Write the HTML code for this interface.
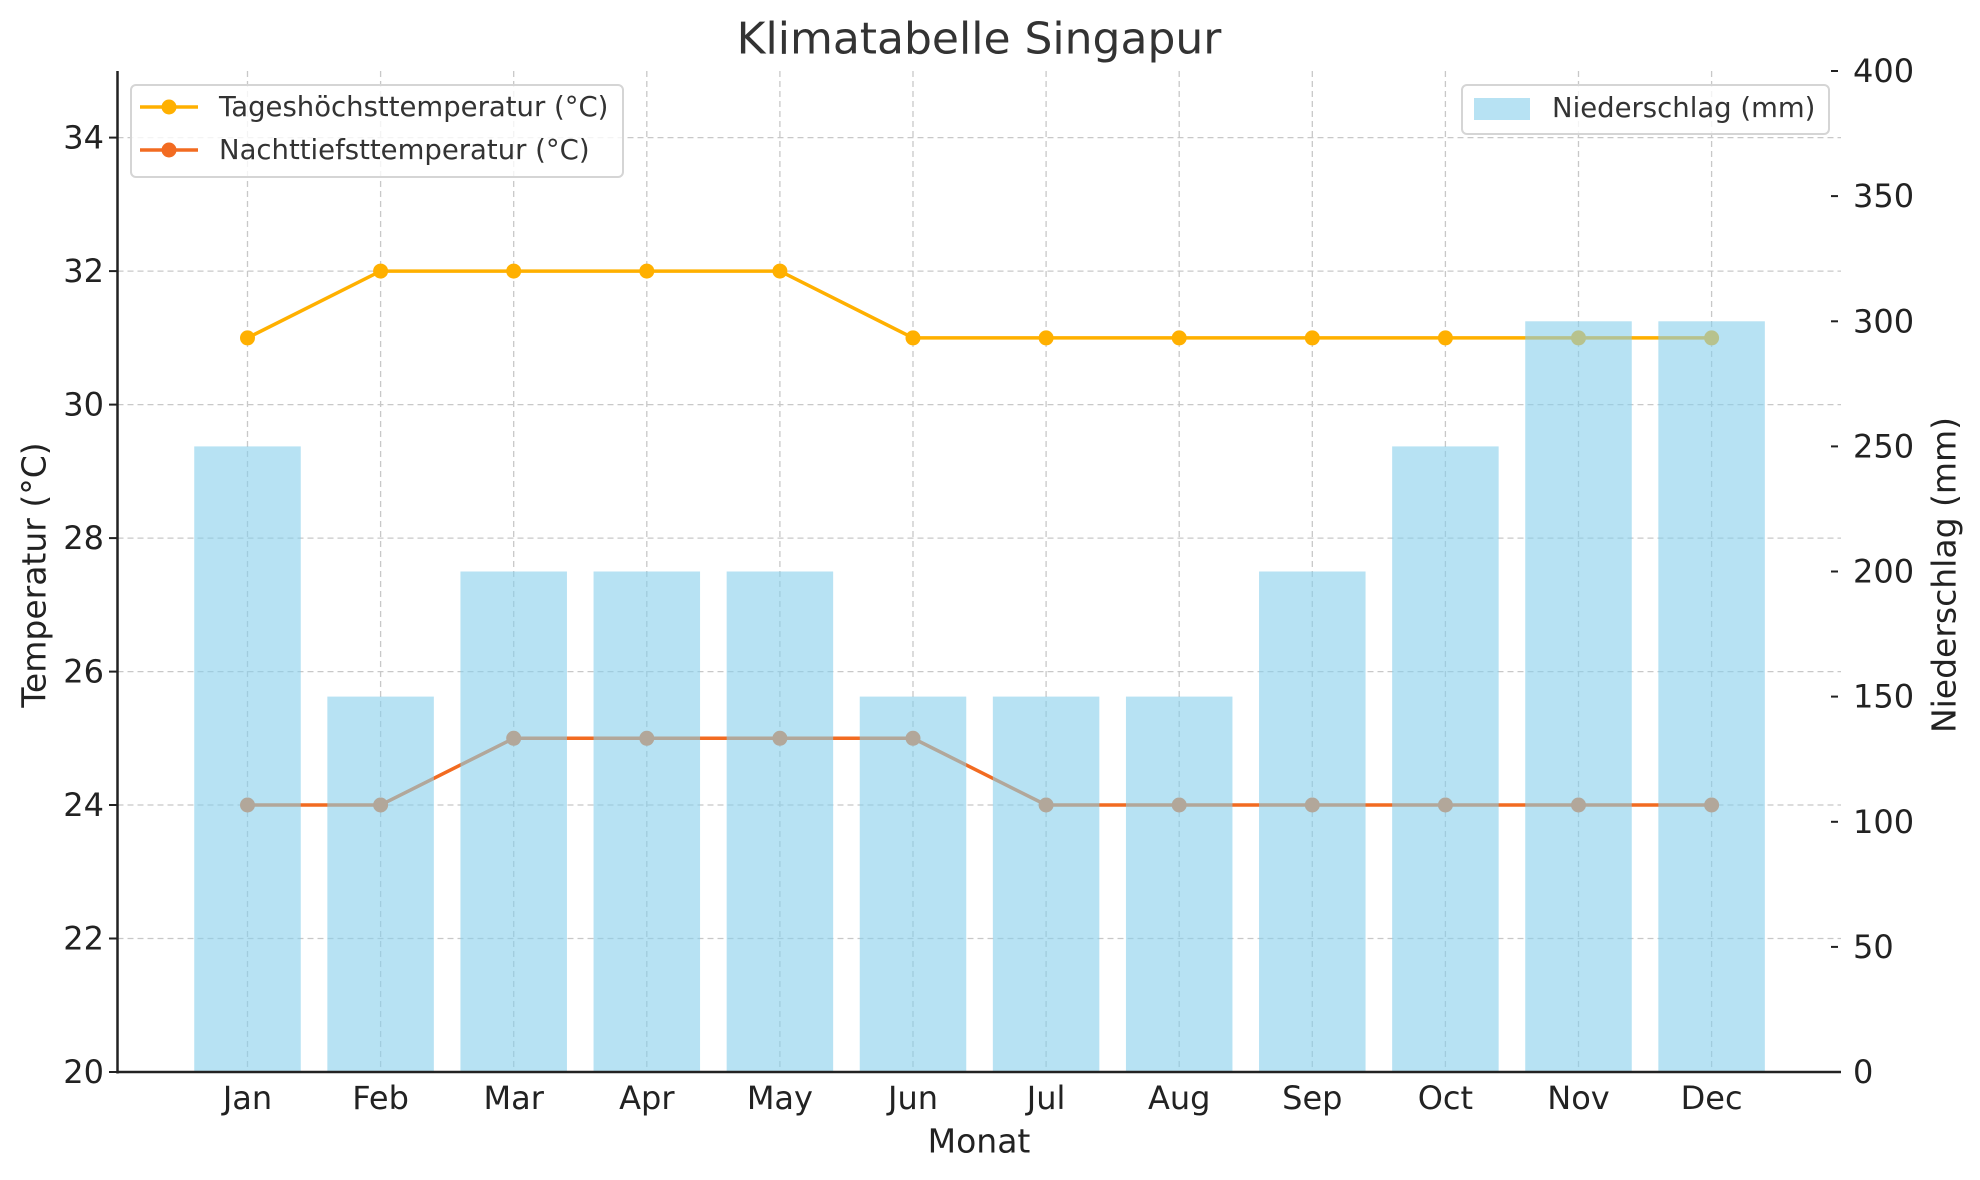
<!DOCTYPE html>
<html><head><meta charset="utf-8"><style>
html,body{margin:0;padding:0;background:#fff;}
svg{display:block;font-family:"DejaVu Sans","Liberation Sans",sans-serif;}
</style></head><body>
<svg width="1980" height="1180" viewBox="0 0 1980 1180" xmlns="http://www.w3.org/2000/svg">
<rect width="1980" height="1180" fill="#fff"/>
<g stroke="#c8c8c8" stroke-width="1.3" stroke-dasharray="6,4" fill="none">
<line x1="117.5" x2="1841" y1="137.6" y2="137.6"/>
<line x1="117.5" x2="1841" y1="271.1" y2="271.1"/>
<line x1="117.5" x2="1841" y1="404.6" y2="404.6"/>
<line x1="117.5" x2="1841" y1="538.1" y2="538.1"/>
<line x1="117.5" x2="1841" y1="671.6" y2="671.6"/>
<line x1="117.5" x2="1841" y1="805" y2="805"/>
<line x1="117.5" x2="1841" y1="938.5" y2="938.5"/>
<line x1="247.5" x2="247.5" y1="71" y2="1072"/>
<line x1="380.6" x2="380.6" y1="71" y2="1072"/>
<line x1="513.7" x2="513.7" y1="71" y2="1072"/>
<line x1="646.8" x2="646.8" y1="71" y2="1072"/>
<line x1="779.9" x2="779.9" y1="71" y2="1072"/>
<line x1="913" x2="913" y1="71" y2="1072"/>
<line x1="1046.1" x2="1046.1" y1="71" y2="1072"/>
<line x1="1179.2" x2="1179.2" y1="71" y2="1072"/>
<line x1="1312.3" x2="1312.3" y1="71" y2="1072"/>
<line x1="1445.4" x2="1445.4" y1="71" y2="1072"/>
<line x1="1578.5" x2="1578.5" y1="71" y2="1072"/>
<line x1="1711.6" x2="1711.6" y1="71" y2="1072"/>
</g>
<polyline fill="none" stroke="#FFB000" stroke-width="3.5" points="247.5,337.9 380.6,271.1 513.7,271.1 646.8,271.1 779.9,271.1 913,337.9 1046.1,337.9 1179.2,337.9 1312.3,337.9 1445.4,337.9 1578.5,337.9 1711.6,337.9"/>
<g fill="#FFB000">
<circle cx="247.5" cy="337.9" r="7.5"/><circle cx="380.6" cy="271.1" r="7.5"/><circle cx="513.7" cy="271.1" r="7.5"/><circle cx="646.8" cy="271.1" r="7.5"/><circle cx="779.9" cy="271.1" r="7.5"/><circle cx="913" cy="337.9" r="7.5"/><circle cx="1046.1" cy="337.9" r="7.5"/><circle cx="1179.2" cy="337.9" r="7.5"/><circle cx="1312.3" cy="337.9" r="7.5"/><circle cx="1445.4" cy="337.9" r="7.5"/><circle cx="1578.5" cy="337.9" r="7.5"/><circle cx="1711.6" cy="337.9" r="7.5"/>
</g>
<polyline fill="none" stroke="#F26B21" stroke-width="3.5" points="247.5,805 380.6,805 513.7,738.3 646.8,738.3 779.9,738.3 913,738.3 1046.1,805 1179.2,805 1312.3,805 1445.4,805 1578.5,805 1711.6,805"/>
<g fill="#F26B21">
<circle cx="247.5" cy="805" r="7.5"/><circle cx="380.6" cy="805" r="7.5"/><circle cx="513.7" cy="738.3" r="7.5"/><circle cx="646.8" cy="738.3" r="7.5"/><circle cx="779.9" cy="738.3" r="7.5"/><circle cx="913" cy="738.3" r="7.5"/><circle cx="1046.1" cy="805" r="7.5"/><circle cx="1179.2" cy="805" r="7.5"/><circle cx="1312.3" cy="805" r="7.5"/><circle cx="1445.4" cy="805" r="7.5"/><circle cx="1578.5" cy="805" r="7.5"/><circle cx="1711.6" cy="805" r="7.5"/>
</g>
<g fill="#87CEEB" fill-opacity="0.6">
<rect x="194.25" y="446.4" width="106.5" height="625.6"/>
<rect x="327.35" y="696.6" width="106.5" height="375.4"/>
<rect x="460.45" y="571.5" width="106.5" height="500.5"/>
<rect x="593.55" y="571.5" width="106.5" height="500.5"/>
<rect x="726.65" y="571.5" width="106.5" height="500.5"/>
<rect x="859.75" y="696.6" width="106.5" height="375.4"/>
<rect x="992.85" y="696.6" width="106.5" height="375.4"/>
<rect x="1125.95" y="696.6" width="106.5" height="375.4"/>
<rect x="1259.05" y="571.5" width="106.5" height="500.5"/>
<rect x="1392.15" y="446.4" width="106.5" height="625.6"/>
<rect x="1525.25" y="321.3" width="106.5" height="750.7"/>
<rect x="1658.35" y="321.3" width="106.5" height="750.7"/>
</g>
<line x1="117.5" y1="71" x2="117.5" y2="1073.5" stroke="#222" stroke-width="2.5"/>
<line x1="116.5" y1="1072" x2="1841" y2="1072" stroke="#222" stroke-width="2.5"/>
<g stroke="#222" stroke-width="2">
<line x1="109" x2="117" y1="1072" y2="1072"/><line x1="109" x2="117" y1="938.5" y2="938.5"/><line x1="109" x2="117" y1="805" y2="805"/><line x1="109" x2="117" y1="671.6" y2="671.6"/><line x1="109" x2="117" y1="538.1" y2="538.1"/><line x1="109" x2="117" y1="404.6" y2="404.6"/><line x1="109" x2="117" y1="271.1" y2="271.1"/><line x1="109" x2="117" y1="137.6" y2="137.6"/>
<line x1="1831" x2="1838" y1="71" y2="71"/><line x1="1831" x2="1838" y1="196.1" y2="196.1"/><line x1="1831" x2="1838" y1="321.3" y2="321.3"/><line x1="1831" x2="1838" y1="446.4" y2="446.4"/><line x1="1831" x2="1838" y1="571.5" y2="571.5"/><line x1="1831" x2="1838" y1="696.6" y2="696.6"/><line x1="1831" x2="1838" y1="821.8" y2="821.8"/><line x1="1831" x2="1838" y1="946.9" y2="946.9"/><line x1="1831" x2="1838" y1="1072" y2="1072"/>
</g>
<g font-size="32" fill="#222" text-anchor="end" dominant-baseline="central">
<text x="104" y="1072">20</text><text x="104" y="938.5">22</text><text x="104" y="805">24</text><text x="104" y="671.6">26</text><text x="104" y="538.1">28</text><text x="104" y="404.6">30</text><text x="104" y="271.1">32</text><text x="104" y="137.6">34</text>
</g>
<g font-size="32" fill="#222" text-anchor="start" dominant-baseline="central">
<text x="1853" y="71">400</text><text x="1853" y="196.1">350</text><text x="1853" y="321.3">300</text><text x="1853" y="446.4">250</text><text x="1853" y="571.5">200</text><text x="1853" y="696.6">150</text><text x="1853" y="821.8">100</text><text x="1853" y="946.9">50</text><text x="1853" y="1072">0</text>
</g>
<g font-size="32" fill="#222" text-anchor="middle" dominant-baseline="central">
<text x="247.5" y="1098">Jan</text><text x="380.6" y="1098">Feb</text><text x="513.7" y="1098">Mar</text><text x="646.8" y="1098">Apr</text><text x="779.9" y="1098">May</text><text x="913" y="1098">Jun</text><text x="1046.1" y="1098">Jul</text><text x="1179.2" y="1098">Aug</text><text x="1312.3" y="1098">Sep</text><text x="1445.4" y="1098">Oct</text><text x="1578.5" y="1098">Nov</text><text x="1711.6" y="1098">Dec</text>
<text x="979" y="1141" font-size="33">Monat</text>
<text x="979" y="39" font-size="44" fill="#333">Klimatabelle Singapur</text>
<text transform="translate(34,575) rotate(-90)" font-size="33">Temperatur (°C)</text>
<text transform="translate(1944,575) rotate(-90)" font-size="33">Niederschlag (mm)</text>
</g>
<rect x="131" y="85" width="492" height="92" rx="5" fill="#fff" fill-opacity="0.8" stroke="#d5d5d5" stroke-width="2"/>
<line x1="140" x2="198" y1="107" y2="107" stroke="#FFB000" stroke-width="3.5"/><circle cx="169" cy="107" r="7.5" fill="#FFB000"/>
<line x1="140" x2="198" y1="150" y2="150" stroke="#F26B21" stroke-width="3.5"/><circle cx="169" cy="150" r="7.5" fill="#F26B21"/>
<g font-size="27.5" fill="#333" dominant-baseline="central">
<text x="219" y="107">Tageshöchsttemperatur (°C)</text>
<text x="219" y="150">Nachttiefsttemperatur (°C)</text>
</g>
<rect x="1462" y="85" width="367" height="49" rx="5" fill="#fff" fill-opacity="0.8" stroke="#d5d5d5" stroke-width="2"/>
<rect x="1474" y="98" width="56" height="22" fill="#87CEEB" fill-opacity="0.6"/>
<text x="1552" y="108" font-size="27.5" fill="#333" dominant-baseline="central">Niederschlag (mm)</text>
</svg>
</body></html>
